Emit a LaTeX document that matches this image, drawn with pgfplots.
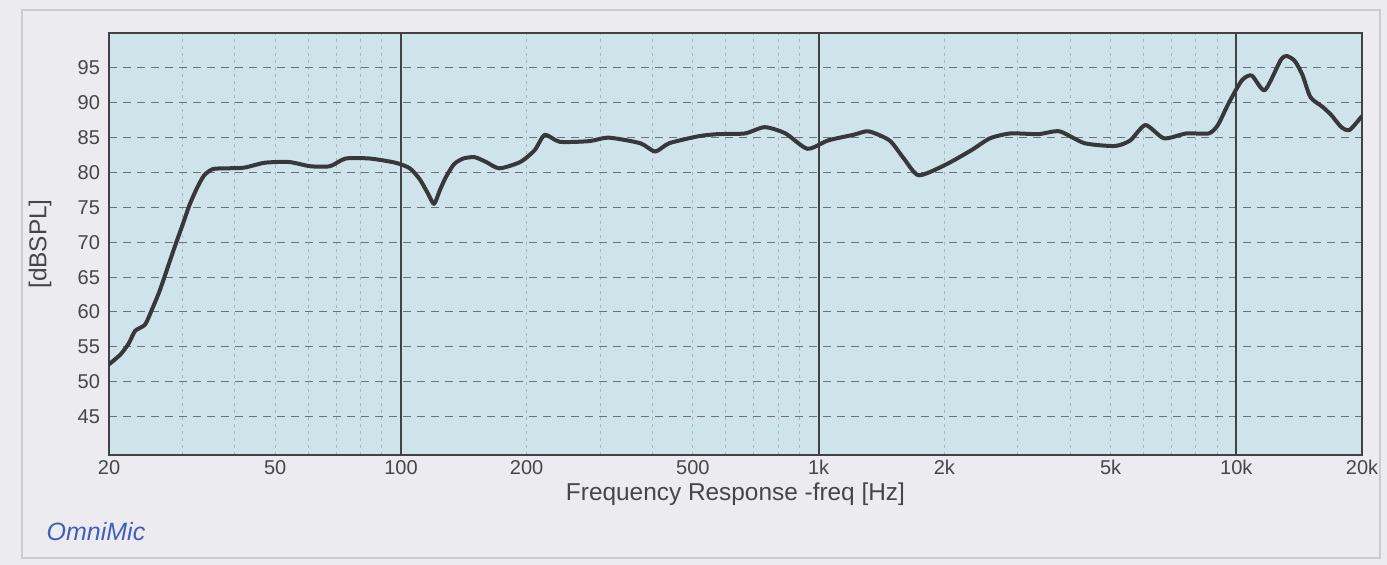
\documentclass[border=0pt]{standalone}
\usepackage{pgfplots}
\pgfplotsset{compat=1.18}
\usepackage{fontspec}
\setmainfont{Liberation Sans}
\setsansfont{Liberation Sans}

\definecolor{pagebg}{RGB}{235,235,240}
\definecolor{plotbg}{RGB}{206,228,234}
\definecolor{griddash}{RGB}{110,115,120}
\definecolor{gridminor}{RGB}{170,180,186}
\definecolor{axisdark}{RGB}{65,65,70}
\definecolor{curve}{RGB}{55,55,60}
\definecolor{labeltext}{RGB}{70,70,70}
\definecolor{omniblue}{RGB}{65,95,185}

\begin{document}
\begin{tikzpicture}

% page background and frame
\fill[pagebg] (-54.5pt,-55pt) rectangle (639pt,227.5pt);
\draw[gray!40, line width=0.6pt] (-43.5pt,-51.5pt) rectangle (635.5pt,222.5pt);

\begin{axis}[
at={(0,0)}, anchor=south west,
width=626.5pt, height=211pt,
scale only axis,
xmode=log,
log basis x=10,
xmin=20, xmax=20000,
ymin=39.5, ymax=100,
axis background/.style={fill=plotbg},
axis line style={axisdark, line width=1pt},
xtick={20,50,100,200,500,1000,2000,5000,10000,20000},
xticklabels={20,50,100,200,500,1k,2k,5k,10k,20k},
minor xtick={30,40,60,70,80,90,300,400,600,700,800,900,3000,4000,6000,7000,8000,9000,200,500,2000,5000,50,20000},
ytick={45,50,55,60,65,70,75,80,85,90,95},
major tick length=0pt, minor tick length=0pt,
ymajorgrids, xminorgrids,
y grid style={griddash, line width=0.5pt, dash pattern=on 4pt off 3pt},
minor x grid style={gridminor, line width=0.5pt, dash pattern=on 1.5pt off 2pt},
extra x ticks={100,1000,10000},
extra x tick labels={},
extra x tick style={grid=major, major grid style={axisdark, line width=1pt, solid}},
tick label style={font=\fontsize{10}{12}\selectfont, text=labeltext},
/pgf/number format/assume math mode=true,
xticklabel style={yshift=1pt},
yticklabel style={xshift=-1pt},
xlabel={Frequency Response -freq [Hz]},
ylabel={[dBSPL]},
label style={font=\fontsize{12.2}{14}\selectfont, text=labeltext},
xlabel style={at={(axis description cs:0.5,-0.0924)}, anchor=center},
ylabel style={at={(axis description cs:-0.055,0.5)}, anchor=center},
clip=true,
]

\addplot [curve, line width=2pt, line join=round, smooth, tension=0.4] table {%
20 52.5
21.3 53.9
22.3 55.5
23.1 57.3
24.4 58.2
25.4 60.5
26.5 63.2
28.6 69.0
30.0 72.5
31.2 75.4
32.5 77.8
33.8 79.6
35.5 80.5
38.5 80.6
42.2 80.7
47.2 81.4
54.0 81.5
60.6 80.9
67.6 80.9
73.7 82.0
84.3 82.0
97 81.4
105 80.6
111 79.0
116 77.0
120 75.5
124 77.5
128 79.3
134 81.2
141 82.0
150 82.2
160 81.5
172 80.6
193 81.5
209 83.2
221 85.4
240 84.4
283 84.5
314 85.0
374 84.2
406 83.0
439 84.2
516 85.2
574 85.5
666 85.6
743 86.5
833 85.6
940 83.4
1054 84.6
1211 85.4
1317 85.9
1478 84.6
1600 82.0
1736 79.6
2011 81.1
2322 83.2
2572 84.9
2880 85.6
3359 85.5
3774 85.9
4333 84.2
5122 83.8
5573 84.6
6062 86.8
6715 84.9
7593 85.6
8589 85.6
9033 86.8
9600 90.0
10310 93.2
10890 93.9
11700 91.8
12770 96.1
13200 96.7
13800 96.0
14400 94.0
15050 90.8
16100 89.4
16900 88.2
17850 86.5
18680 86.1
20000 88.1
};

\end{axis}

\node[font=\fontsize{12.5}{14}\selectfont\itshape, text=omniblue] at (-6.5pt,-38.5pt) {OmniMic};

\end{tikzpicture}
\end{document}
